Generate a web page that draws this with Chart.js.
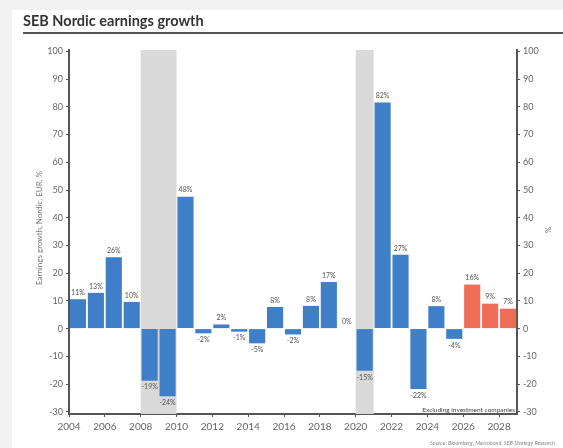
<!DOCTYPE html>
<html>
<head>
<meta charset="utf-8">
<script src="https://cdn.jsdelivr.net/npm/chart.js@4/dist/chart.umd.min.js"></script>
<style>
  html, body { margin: 0; padding: 0; background: #f2f2f2; }
  #wrap { position: absolute; left: 0; top: 0; width: 563px; height: 448px; }
</style>
</head>
<body>
<div id="wrap"><canvas id="grafico"></canvas></div>
<script>
// dados
const years = [2004, 2005, 2006, 2007, 2008, 2009, 2010, 2011, 2012, 2013, 2014, 2015, 2016,
               2017, 2018, 2019, 2020, 2021, 2022, 2023, 2024, 2025, 2026, 2027, 2028];
const growth = [10.6, 12.9, 25.7, 9.6, -18.8, -24.4, 47.6, -1.7, 1.5, -1.1, -5.3, 7.8, -2.1,
                8.2, 16.8, 0, -15.2, 81.6, 26.6, -21.8, 8.1, -3.7, 15.9, 9.0, 7.2];
const forecastFrom = 2026;
const tickYears = [2004, 2006, 2008, 2010, 2012, 2014, 2016, 2018, 2020, 2022, 2024, 2026, 2028];
const recessionStart = [2008, 2020];
const recessionEnd = [2010, 2021];

const azul = '#3f7fc7';
const laranja = '#ef6e57';
const cinza = '#555555';
const fonte = 'Lato, "Open Sans", sans-serif';

// fundo, titulo e rodape
const moldura = {
  id: 'moldura',
  beforeDraw(chart) {
    const c = chart.ctx;
    c.save();
    c.fillStyle = '#f2f2f2';
    c.fillRect(0, 0, chart.width, chart.height);
    c.fillStyle = '#ffffff';
    c.fillRect(12, 10, chart.width - 12, chart.height - 10);
    c.fillStyle = '#333';
    c.font = 'bold 14.5px ' + fonte;
    c.textBaseline = 'middle';
    c.fillText('SEB Nordic earnings growth', 23, 21);
    c.fillStyle = cinza;
    c.fillRect(23, 32, chart.width - 23, 2);
    c.restore();
  },
  afterDraw(chart) {
    const c = chart.ctx;
    const a = chart.chartArea;
    c.save();
    c.fillStyle = '#777';
    c.font = '8px ' + fonte;
    c.textAlign = 'center';
    c.textBaseline = 'middle';
    c.translate(39, 228);
    c.rotate(-Math.PI / 2);
    c.fillText('Earnings growth, Nordic, EUR, %', 0, 0);
    c.restore();

    c.save();
    c.fillStyle = '#777';
    c.font = '8px ' + fonte;
    c.textAlign = 'center';
    c.textBaseline = 'middle';
    c.translate(548, 230);
    c.rotate(-Math.PI / 2);
    c.fillText('%', 0, 0);
    c.restore();

    c.save();
    c.fillStyle = '#444';
    c.font = '6.5px ' + fonte;
    c.textAlign = 'right';
    c.textBaseline = 'bottom';
    c.fillText('Excluding investment companies', a.right - 2, a.bottom - 1);
    c.fillStyle = '#888';
    c.font = 'italic 5.5px ' + fonte;
    c.fillText('Source: Bloomberg, Macrobond, SEB Strategy Research', 555, 446);
    c.restore();
  }
};

// faixas de recessao
const recessao = {
  id: 'recessao',
  beforeDatasetsDraw(chart) {
    const c = chart.ctx;
    const a = chart.chartArea;
    const x = chart.scales.x;
    c.save();
    c.fillStyle = '#d9d9d9';
    for (let i = 0; i < recessionStart.length; i++) {
      const x0 = x.getPixelForValue(recessionStart[i]);
      const x1 = x.getPixelForValue(recessionEnd[i]);
      c.fillRect(x0, a.top, x1 - x0, a.bottom - a.top);
    }
    c.restore();
  }
};

// rotulos das barras
const rotulos = {
  id: 'rotulos',
  afterDatasetsDraw(chart) {
    const c = chart.ctx;
    const meta = chart.getDatasetMeta(0);
    c.save();
    c.fillStyle = '#555';
    c.font = '7px ' + fonte;
    c.textAlign = 'center';
    meta.data.forEach(function(bar, i) {
      const v = growth[i];
      const txt = Math.round(v) + '%';
      if (v >= 0) {
        c.textBaseline = 'bottom';
        c.fillText(txt, bar.x, bar.y - 3);
      } else {
        c.textBaseline = 'top';
        c.fillText(txt, bar.x, bar.y + 3);
      }
    });
    c.restore();
  }
};

const eixoY = function(pos, largura) {
  return {
    position: pos,
    min: -30.8,
    max: 100.5,
    ticks: { stepSize: 10, includeBounds: false, color: '#666', font: { family: fonte, size: 9 }, padding: 3 },
    grid: { drawOnChartArea: false, tickLength: 3, color: cinza },
    border: { color: cinza, width: 2 },
    afterFit: function(s) { s.width = largura; }
  };
};

const config = {
  type: 'bar',
  data: {
    datasets: [{
      data: years.map((y, i) => ({ x: y + 0.5, y: growth[i] })),
      backgroundColor: years.map(y => y >= forecastFrom ? laranja : azul),
      barPercentage: 0.9,
      categoryPercentage: 1,
      yAxisID: 'y'
    }]
  },
  options: {
    responsive: true,
    maintainAspectRatio: false,
    animation: false,
    layout: { padding: { top: 50, bottom: 14, left: 0, right: 0 } },
    plugins: {
      legend: { display: false },
      tooltip: { enabled: false }
    },
    scales: {
      x: {
        type: 'linear',
        offset: false,
        min: 2004,
        max: 2029,
        afterBuildTicks: function(s) { s.ticks = tickYears.map(v => ({ value: v })); },
        ticks: {
          autoSkip: false, maxRotation: 0, padding: 4,
          color: '#666', font: { family: fonte, size: 10 },
          callback: v => String(v)
        },
        grid: { drawOnChartArea: false, tickLength: 3, color: cinza, offset: false },
        border: { color: cinza, width: 2 },
        afterFit: function(s) { s.height = 20; }
      },
      y: eixoY('left', 69),
      y2: eixoY('right', 46)
    }
  },
  plugins: [moldura, recessao, rotulos]
};

document.addEventListener('DOMContentLoaded', function() {
  var ctx = document.getElementById('grafico').getContext('2d');
  new Chart(ctx, config);
});
</script>
</body>
</html>
